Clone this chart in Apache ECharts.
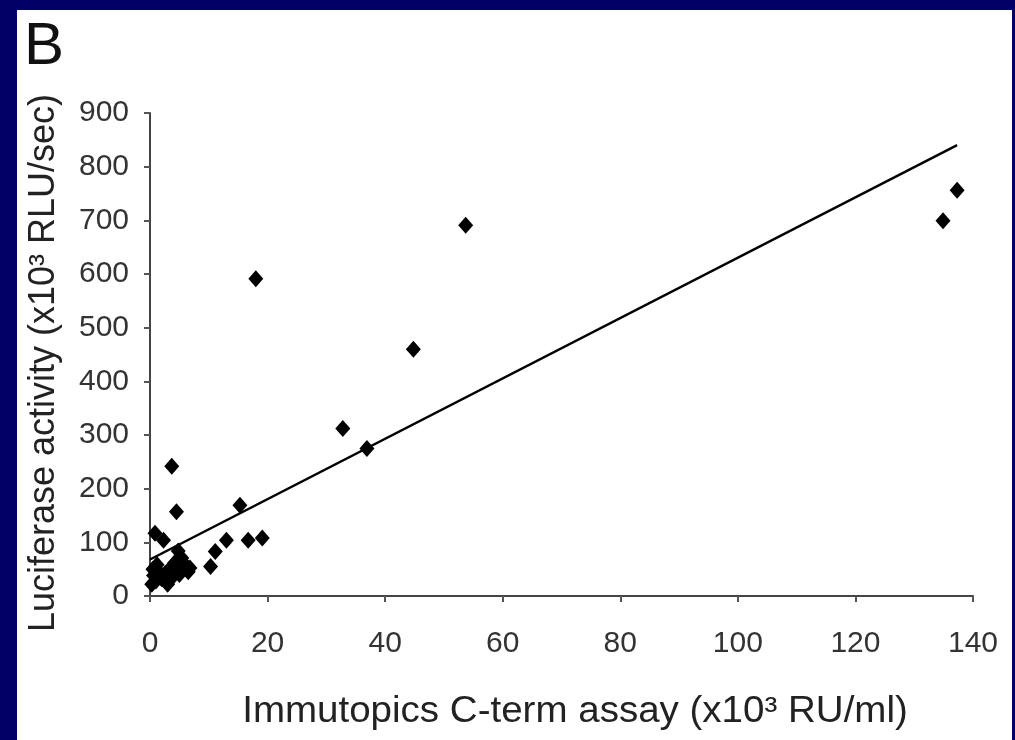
<!DOCTYPE html>
<html>
<head>
<meta charset="utf-8">
<script src="https://cdn.jsdelivr.net/npm/echarts@6/dist/echarts.min.js"></script>
<style>
html,body{margin:0;padding:0;background:#000066;}
#c{width:1015px;height:740px;}
</style>
</head>
<body>
<div id="c"></div>
<script>
// Data
var xValues = [137.3, 134.9, 53.7, 44.8, 18.0, 32.8, 36.9, 15.3, 3.7, 4.5, 0.85, 2.3, 13.0, 16.7, 19.1, 11.1, 10.3, 6.5,
               4.8, 5.4, 6.0, 0.3, 0.6, 1.0, 1.5, 2.0, 2.6, 3.0, 3.3, 3.8, 4.2, 4.6, 1.2, 2.7, 0.5, 5.0, 6.8];
var yValues = [756, 699, 691, 460, 591, 312, 275, 169, 242, 157, 117, 104, 104, 104, 108, 83, 55, 45,
               84, 71, 58, 22, 38, 28, 45, 32, 42, 22, 50, 35, 62, 48, 58, 28, 50, 40, 52];
var trendX = [0, 137.3];
var trendY = [68, 840];
var xTicks = [0, 20, 40, 60, 80, 100, 120, 140];
var yTicks = [0, 100, 200, 300, 400, 500, 600, 700, 800, 900];
var xTitle = 'Immutopics C-term assay (x10\u00B3 RU/ml)';
var yTitle = 'Luciferase activity (x10\u00B3 RLU/sec)';
var panelLabel = 'B';

var points = xValues.map(function (x, i) { return [x, yValues[i]]; });
var trend = trendX.map(function (x, i) { return [x, trendY[i]]; });

var chart = echarts.init(document.getElementById('c'));
var font = 'Liberation Sans, Arial, sans-serif';
chart.setOption({
  backgroundColor: '#000066',
  animation: false,
  graphic: [
    { type: 'rect', z: -10, shape: { x: 17, y: 10, width: 995, height: 730 }, style: { fill: '#ffffff' } },
    { type: 'text', left: 24, top: 17, style: { text: panelLabel, font: '60px ' + font, fill: '#111' } },
    { type: 'text', x: 575, y: 712, scaleX: 1.07, style: { text: xTitle, font: '36px ' + font, fill: '#222', align: 'center', verticalAlign: 'middle' } },
    { type: 'text', x: 44, y: 363, rotation: Math.PI / 2, style: { text: yTitle, font: '36px ' + font, fill: '#222', align: 'center', verticalAlign: 'middle' } }
  ],
  grid: { left: 150, right: 42, top: 113, bottom: 144, containLabel: false },
  xAxis: {
    type: 'value', min: xTicks[0], max: xTicks[xTicks.length - 1], interval: 20,
    axisLine: { show: true, onZero: false, lineStyle: { color: '#444', width: 2 } },
    axisTick: { show: true, inside: false, length: 6, lineStyle: { color: '#555', width: 2 } },
    axisLabel: { show: true, margin: 33, fontSize: 30, fontFamily: font, color: '#333' },
    splitLine: { show: false }
  },
  yAxis: {
    type: 'value', min: yTicks[0], max: yTicks[yTicks.length - 1], interval: 100,
    axisLine: { show: true, onZero: false, lineStyle: { color: '#444', width: 2 } },
    axisTick: { show: true, inside: false, length: 6, lineStyle: { color: '#555', width: 2 } },
    axisLabel: { show: true, margin: 21, fontSize: 30, fontFamily: font, color: '#333' },
    splitLine: { show: false }
  },
  series: [
    {
      type: 'line', data: trend, symbol: 'none', silent: true,
      lineStyle: { color: '#000', width: 2.5 }, z: 3
    },
    {
      type: 'scatter', data: points, symbol: 'diamond', symbolSize: [15, 17],
      itemStyle: { color: '#000', opacity: 1 }, z: 4
    }
  ]
});
</script>
</body>
</html>
